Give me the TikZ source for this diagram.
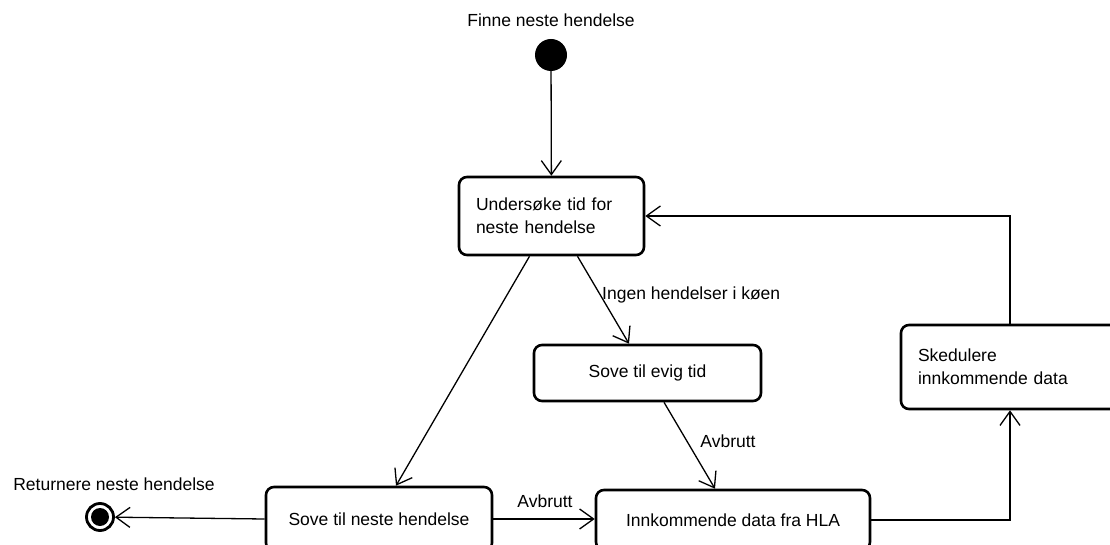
\documentclass[tikz,border=0pt]{standalone}
\usepackage{fontspec}
\setmainfont{Liberation Sans}
\usetikzlibrary{arrows.meta}
\begin{document}
\begin{tikzpicture}[x=1pt, y=-1pt, font=\fontsize{17.5}{23}\selectfont]
\tikzset{
  state/.style={draw, line width=2.6pt, rounded corners=8pt, inner sep=0pt, align=center},
  lstate/.style={state, align=left, inner xsep=17pt},
  flow/.style={line width=1.3pt, -{Straight Barb[length=14pt, width=20pt]}},
  lbl/.style={inner sep=0pt, anchor=base},
  startdot/.style={circle, fill=black, minimum size=32pt, inner sep=0pt},
  enddot/.style={circle, draw, line width=2.8pt, minimum size=27pt, inner sep=0pt,
    path picture={\fill[black] (path picture bounding box.center) circle (9pt);}},
}
\useasboundingbox (0,0) rectangle (1110,545);
\fill[white] (0,0) rectangle (1110,545);
\clip (0,0) rectangle (1110,545);

% states
\node[startdot] (start) at (551,55) {};
\node[lbl] (startlbl) at (551,27) {Finne neste hendelse};

\node[lstate, minimum width=185pt, minimum height=78pt, text width=151pt] (u) at (551.5,216)
  {Undersøke tid for\\neste hendelse};
\node[state, minimum width=227pt, minimum height=56pt] (se) at (647.5,373) {Sove til evig tid};
\node[state, minimum width=226pt, minimum height=64pt] (sn) at (379,519) {Sove til neste hendelse};
\node[state, minimum width=274pt, minimum height=60pt] (i) at (733,520) {Innkommende data fra HLA};
\node[lstate, minimum width=218pt, minimum height=84pt, text width=184pt] (s) at (1010,367)
  {Skedulere\\innkommende data};

\node[enddot] (end) at (100,517) {};
\node[lbl] (endlbl) at (114,490) {Returnere neste hendelse};

% transitions
\draw[flow] (start) -- (u);
\draw[flow] ([xshift=-22pt]u.south) -- ([xshift=17pt]sn.north);
\draw[flow] ([xshift=26pt]u.south) -- ([xshift=-18.5pt]se.north);
\node[lbl, anchor=base west] (ingen) at (602,299) {Ingen hendelser i køen};
\draw[flow] ([xshift=16.5pt]se.south) -- ([xshift=-18pt]i.north);
\node[lbl] (avb1) at (728,447) {Avbrutt};
\draw[flow] (sn.east) -- (sn.east -| i.west);
\node[lbl] (avb2) at (545,507) {Avbrutt};
\draw[flow] (sn.west) -- (end);
\draw[flow] (i.east) -| (s.south);
\draw[flow] (s.north) |- (u.east);
\end{tikzpicture}
\end{document}
